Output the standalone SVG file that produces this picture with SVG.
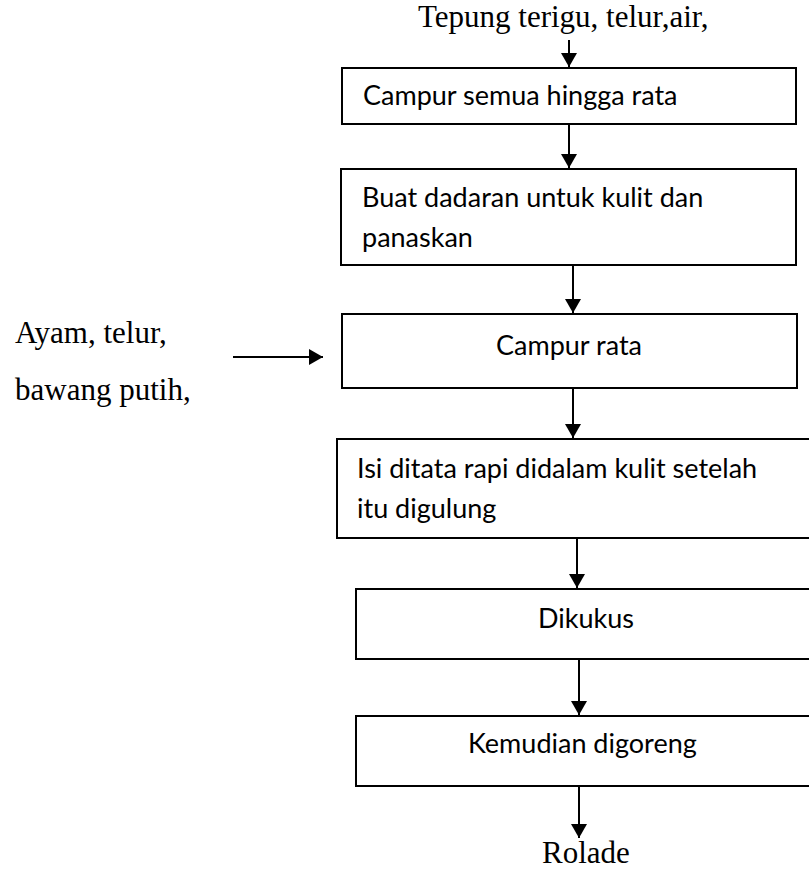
<svg xmlns="http://www.w3.org/2000/svg" width="809" height="869" viewBox="0 0 809 869">
<defs>
<style>
.box{fill:#fff;stroke:#000;stroke-width:2}
.sans{font-family:Lato,"Open Sans",sans-serif;font-size:27px;fill:#000}
.serif{font-family:"Liberation Serif","Times New Roman",serif;font-size:31px;fill:#000}
.conn{stroke:#000;stroke-width:2;fill:none;marker-end:url(#ah)}
</style>
<marker id="ah" markerWidth="7" markerHeight="8" refX="7" refY="4" orient="auto" markerUnits="strokeWidth">
<path d="M0,0 L7,4 L0,8 Z" fill="#000"/>
</marker>
</defs>
<rect width="809" height="869" fill="#fff"/>
<g id="connectors">
<line class="conn" x1="569" y1="40" x2="569" y2="67"/>
<line class="conn" x1="569" y1="124" x2="569" y2="168"/>
<line class="conn" x1="573" y1="265" x2="573" y2="313"/>
<line class="conn" x1="573" y1="388" x2="573" y2="438"/>
<line class="conn" x1="577" y1="538" x2="577" y2="588"/>
<line class="conn" x1="579" y1="659" x2="579" y2="715"/>
<line class="conn" x1="579" y1="786" x2="579" y2="838"/>
<line class="conn" x1="233" y1="357" x2="323" y2="357"/>
</g>
<g id="input-top"><text class="serif" x="418" y="27">Tepung terigu, telur,air,</text></g>
<g id="input-left">
<text class="serif" x="15" y="343">Ayam, telur,</text>
<text class="serif" x="15" y="400">bawang putih,</text>
</g>
<g id="n1"><rect class="box" x="342" y="68" width="454" height="56"/><text class="sans" x="363" y="105">Campur semua hingga rata</text></g>
<g id="n2"><rect class="box" x="341" y="169" width="455" height="96"/><text class="sans" x="362" y="207">Buat dadaran untuk kulit dan</text><text class="sans" x="362" y="247">panaskan</text></g>
<g id="n3"><rect class="box" x="342" y="314" width="455" height="74"/><text class="sans" x="496" y="355">Campur rata</text></g>
<g id="n4"><rect class="box" x="337" y="439" width="480" height="99"/><text class="sans" x="357" y="478">Isi ditata rapi didalam kulit setelah</text><text class="sans" x="357" y="518">itu digulung</text></g>
<g id="n5"><rect class="box" x="356" y="589" width="470" height="70"/><text class="sans" x="538" y="628">Dikukus</text></g>
<g id="n6"><rect class="box" x="356" y="716" width="470" height="70"/><text class="sans" x="468" y="753">Kemudian digoreng</text></g>
<g id="output"><text class="serif" x="542" y="863">Rolade</text></g>
</svg>
